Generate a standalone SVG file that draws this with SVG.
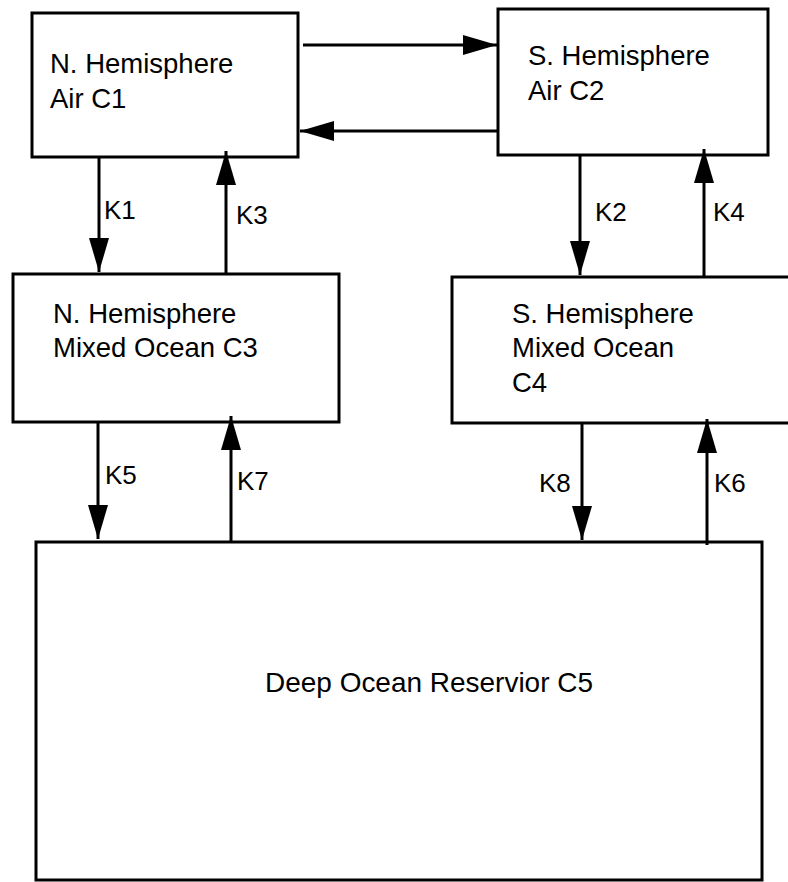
<svg xmlns="http://www.w3.org/2000/svg" width="788" height="882" viewBox="0 0 788 882">
<defs>
<marker id="ah" viewBox="0 0 34 20" refX="34" refY="10" markerWidth="34" markerHeight="20" markerUnits="userSpaceOnUse" orient="auto">
<path d="M0,0 L34,10 L0,20 Z" fill="#000"/>
</marker>
</defs>
<style>
.box{fill:#fff;stroke:#000;stroke-width:3}
.lbl{font-family:"Liberation Sans",Arial,sans-serif;font-size:27.5px;fill:#000}
.k{font-family:"Liberation Sans",Arial,sans-serif;font-size:26px;fill:#000}
.c{fill:none;stroke:#000;stroke-width:3;marker-end:url(#ah)}
</style>
<rect width="788" height="882" fill="#fff"/>
<g id="c1">
<rect class="box" x="32" y="13" width="266" height="144"/>
<text class="lbl" x="50" y="73">N. Hemisphere</text>
<text class="lbl" x="50" y="108">Air C1</text>
</g>
<g id="c2">
<rect class="box" x="498" y="9" width="270" height="146"/>
<text class="lbl" x="528" y="65">S. Hemisphere</text>
<text class="lbl" x="528" y="100">Air C2</text>
</g>
<g id="c3">
<rect class="box" x="13" y="274" width="326" height="148"/>
<text class="lbl" x="53" y="323">N. Hemisphere</text>
<text class="lbl" x="53" y="357">Mixed Ocean C3</text>
</g>
<g id="c4">
<rect class="box" x="452" y="277" width="346" height="146"/>
<text class="lbl" x="512" y="323">S. Hemisphere</text>
<text class="lbl" x="512" y="357">Mixed Ocean</text>
<text class="lbl" x="512" y="392">C4</text>
</g>
<g id="c5">
<rect class="box" x="36" y="542" width="726" height="338"/>
<text class="lbl" x="265" y="692" textLength="328" lengthAdjust="spacingAndGlyphs">Deep Ocean Reservior C5</text>
</g>
<g id="connectors">
<line class="c" x1="303" y1="45" x2="497" y2="45"/>
<line class="c" x1="498" y1="131" x2="300" y2="131"/>
<line class="c" x1="99" y1="157" x2="99" y2="272"/>
<line class="c" x1="226" y1="274" x2="226" y2="151"/>
<line class="c" x1="580" y1="155" x2="580" y2="275"/>
<line class="c" x1="704" y1="277" x2="704" y2="149"/>
<line class="c" x1="98" y1="422" x2="98" y2="539"/>
<line class="c" x1="231" y1="542" x2="231" y2="416"/>
<line class="c" x1="582" y1="423" x2="582" y2="540"/>
<line class="c" x1="707" y1="545" x2="707" y2="419"/>
<text class="k" x="104" y="219">K1</text>
<text class="k" x="236" y="224">K3</text>
<text class="k" x="595" y="221">K2</text>
<text class="k" x="713" y="221">K4</text>
<text class="k" x="105" y="484">K5</text>
<text class="k" x="237" y="490">K7</text>
<text class="k" x="539" y="492">K8</text>
<text class="k" x="714" y="492">K6</text>
</g>
</svg>
